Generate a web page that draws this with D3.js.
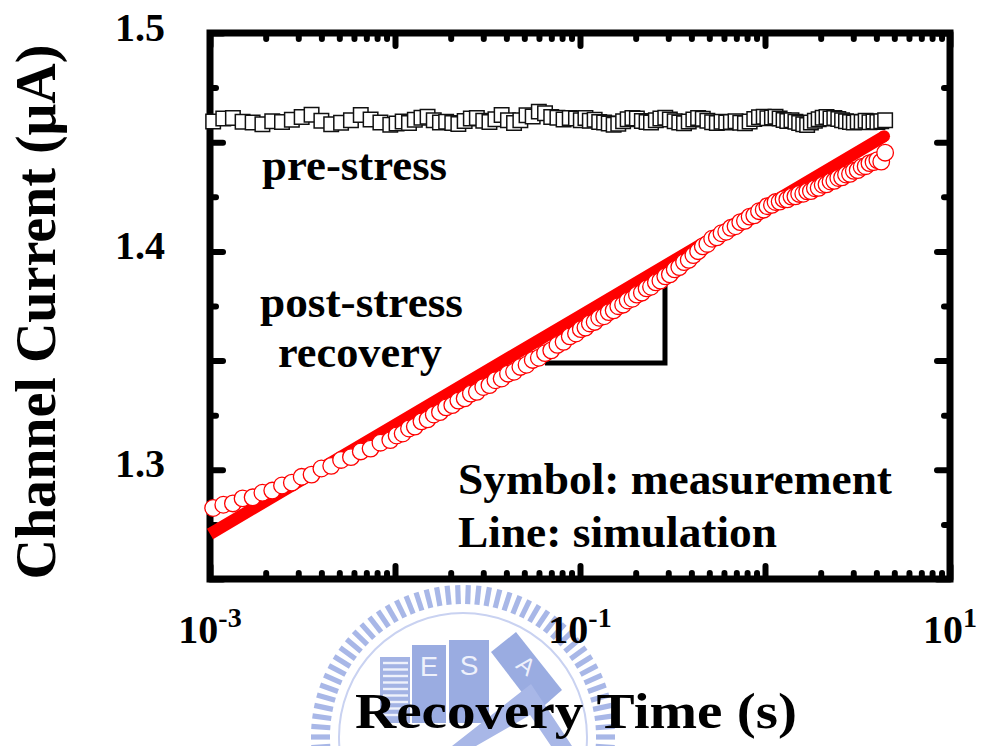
<!DOCTYPE html>
<html>
<head>
<meta charset="utf-8">
<script src="https://cdn.jsdelivr.net/npm/d3@7"></script>
<style>
  html, body { margin: 0; padding: 0; background: #fff; }
  svg { display: block; }
  text { font-family: "Liberation Serif", "Times New Roman", serif; font-weight: bold; fill: #000; }
</style>
</head>
<body>
<svg id="chart" width="983" height="746"></svg>
<script>
// Recovery time of each measured sample (s)
const recoveryTime = [
  0.00104,0.00118,0.00133,0.00150,0.00170,0.00192,0.00217,0.00245,0.00277,0.00313,
  0.00354,0.00400,0.00452,0.00511,0.00578,0.00653,0.00738,0.00834,0.00943,0.0102,
  0.0110,0.0119,0.0128,0.0139,0.0150,0.0162,0.0175,0.0189,0.0204,0.0220,
  0.0238,0.0257,0.0277,0.0300,0.0324,0.0349,0.0377,0.0408,0.0440,0.0476,
  0.0514,0.0555,0.0599,0.0647,0.0699,0.0755,0.0815,0.0880,0.0951,0.101,
  0.107,0.113,0.120,0.127,0.135,0.143,0.152,0.161,0.171,0.181,
  0.192,0.203,0.216,0.229,0.242,0.257,0.272,0.289,0.306,0.325,
  0.344,0.365,0.387,0.410,0.435,0.461,0.488,0.518,0.549,0.582,
  0.617,0.654,0.693,0.735,0.779,0.826,0.875,0.928,0.984,1.03,
  1.09,1.14,1.20,1.26,1.32,1.39,1.46,1.53,1.61,1.69,
  1.77,1.86,1.95,2.05,2.15,2.26,2.37,2.49,2.61,2.74,
  2.88,3.02,3.17,3.33,3.50,3.67,3.86,4.05,4.25,4.46
];

// Channel current before stress (µA)
const preStressCurrent = [
  1.4595,1.4608,1.4611,1.4594,1.4590,1.4582,1.4596,1.4592,1.4603,1.4615,
  1.4626,1.4598,1.4582,1.4589,1.4600,1.4625,1.4604,1.4590,1.4580,1.4586,
  1.4595,1.4588,1.4603,1.4612,1.4616,1.4600,1.4590,1.4594,1.4588,1.4583,
  1.4597,1.4609,1.4611,1.4598,1.4592,1.4605,1.4624,1.4600,1.4588,1.4601,
  1.4623,1.4618,1.4640,1.4633,1.4615,1.4612,1.4604,1.4611,1.4608,1.4600,
  1.4611,1.4598,1.4603,1.4592,1.4590,1.4586,1.4580,1.4584,1.4596,1.4605,
  1.4611,1.4608,1.4597,1.4592,1.4590,1.4601,1.4608,1.4612,1.4604,1.4596,
  1.4590,1.4587,1.4595,1.4604,1.4611,1.4607,1.4598,1.4591,1.4588,1.4594,
  1.4590,1.4592,1.4596,1.4589,1.4587,1.4595,1.4606,1.4614,1.4616,1.4610,
  1.4613,1.4617,1.4609,1.4602,1.4597,1.4601,1.4594,1.4588,1.4582,1.4579,
  1.4590,1.4598,1.4605,1.4612,1.4615,1.4609,1.4611,1.4606,1.4601,1.4596,
  1.4593,1.4590,1.4594,1.4592,1.4598,1.4591,1.4595,1.4593,1.4596,1.4600
];

// Channel current during post-stress recovery (µA)
const recoveryCurrent = [
  1.2825,1.2840,1.2846,1.2869,1.2874,1.2895,1.2905,1.2928,1.2941,1.2968,
  1.2978,1.3006,1.3018,1.3045,1.3058,1.3084,1.3097,1.3124,1.3136,1.3157,
  1.3166,1.3189,1.3198,1.3222,1.3231,1.3253,1.3264,1.3286,1.3296,1.3317,
  1.3327,1.3349,1.3357,1.3379,1.3388,1.3410,1.3418,1.3440,1.3449,1.3471,
  1.3481,1.3503,1.3513,1.3534,1.3547,1.3572,1.3586,1.3611,1.3624,1.3644,
  1.3651,1.3670,1.3677,1.3696,1.3703,1.3722,1.3730,1.3749,1.3756,1.3775,
  1.3783,1.3802,1.3811,1.3831,1.3838,1.3858,1.3866,1.3886,1.3895,1.3918,
  1.3928,1.3951,1.3961,1.3983,1.4001,1.4023,1.4034,1.4058,1.4064,1.4083,
  1.4090,1.4108,1.4115,1.4134,1.4140,1.4159,1.4165,1.4184,1.4191,1.4207,
  1.4213,1.4226,1.4228,1.4239,1.4238,1.4251,1.4252,1.4263,1.4264,1.4275,
  1.4276,1.4289,1.4291,1.4305,1.4307,1.4320,1.4323,1.4336,1.4339,1.4352,
  1.4355,1.4369,1.4372,1.4387,1.4390,1.4404,1.4409,1.4418,1.4411,1.4452
];

// Simulated recovery (µA)
const simTime = [0.001, 0.01, 0.1, 1, 4.4];
const simCurrent = [1.2706, 1.3206, 1.3705, 1.4205, 1.4527];

// Slope guide (corner of the right triangle)
const slopeTime = [0.0647, 0.288];
const slopeCurrent = [1.3489, 1.3860];

// Axis ticks and labels
const xMajorTicks = [0.001, 0.01, 0.1, 1, 10];
const xLabelValues = [0.001, 0.1, 10];
const xLabelExponents = ["-3", "-1", "1"];
const yMajorTicks = [1.25, 1.3, 1.35, 1.4, 1.45, 1.5];
const yMinorTicks = [1.275, 1.325, 1.375, 1.425, 1.475];
const yLabelValues = [1.3, 1.4, 1.5];
const yLabelText = ["1.3", "1.4", "1.5"];

const svg = d3.select("#chart");
const L = 210, R = 950, T = 33, B = 579;

const x = d3.scaleLog().domain([1e-3, 10]).range([L, R]);
const y = d3.scaleLinear().domain([1.25, 1.5]).range([B, T]);

// ---- institute logo in the lower part of the page ----
const logo = svg.append("g").attr("class", "logo");
const lc = [463, 737];
const teeth = logo.append("g").attr("transform", `translate(${lc[0]},${lc[1]})`);
for (let a = -98; a <= 98; a += 4) {
  teeth.append("rect")
    .attr("x", -2.6).attr("y", -152).attr("width", 5.2).attr("height", 19)
    .attr("fill", "#a8b7e7")
    .attr("transform", `rotate(${a})`);
}
teeth.append("circle").attr("r", 124).attr("fill", "none")
  .attr("stroke", "#c9d2f1").attr("stroke-width", 2);
logo.append("rect").attr("x", 380).attr("y", 657).attr("width", 30).attr("height", 66).attr("fill", "#a3b3e4");
for (let yy = 663; yy < 720; yy += 6.5) {
  logo.append("line").attr("x1", 383).attr("x2", 408).attr("y1", yy).attr("y2", yy)
    .attr("stroke", "#eef1fb").attr("stroke-width", 2.4);
}
logo.append("rect").attr("x", 412).attr("y", 645).attr("width", 34).attr("height", 78).attr("fill", "#9aace1");
logo.append("rect").attr("x", 449).attr("y", 640).attr("width", 40).attr("height", 83).attr("fill", "#9aace1");
logo.append("polygon").attr("points", "491,652 516,632 562,690 537,712").attr("fill", "#9aace1");
logo.append("polygon").attr("points", "452,746 531,684 572,746 551,746 530,715 476,746").attr("fill", "#a8b7e7");
const logoFont = g => g.style("font-family", "Liberation Sans, sans-serif").style("font-weight", "normal").style("fill", "#eef1fb");
logo.append("text").attr("x", 429).attr("y", 676).attr("text-anchor", "middle")
  .style("font-size", "27px").call(logoFont).text("E");
logo.append("text").attr("x", 469).attr("y", 675).attr("text-anchor", "middle")
  .style("font-size", "28px").call(logoFont).text("S");
logo.append("text").attr("transform", "translate(521,672) rotate(38)").attr("text-anchor", "middle")
  .style("font-size", "24px").call(logoFont).text("A");

// ---- frame and inward ticks ----
function styleTicks(g) {
  g.select(".domain").remove();
  g.selectAll(".tick line").attr("stroke", "#000").attr("stroke-width", 6).attr("stroke-linecap", "round");
  g.selectAll(".tick text").remove();
}
const xMinor = x.ticks().filter(v => !xMajorTicks.some(m => Math.abs(m - v) / m < 1e-6));

svg.append("g").attr("transform", `translate(0,${B})`)
  .call(d3.axisBottom(x).tickValues(xMajorTicks).tickSize(-13)).call(styleTicks);
svg.append("g").attr("transform", `translate(0,${B})`)
  .call(d3.axisBottom(x).tickValues(xMinor).tickSize(-6)).call(styleTicks);
svg.append("g").attr("transform", `translate(0,${T})`)
  .call(d3.axisTop(x).tickValues(xMajorTicks).tickSize(-13)).call(styleTicks);
svg.append("g").attr("transform", `translate(0,${T})`)
  .call(d3.axisTop(x).tickValues(xMinor).tickSize(-6)).call(styleTicks);
svg.append("g").attr("transform", `translate(${L},0)`)
  .call(d3.axisLeft(y).tickValues(yMajorTicks).tickSize(-13)).call(styleTicks);
svg.append("g").attr("transform", `translate(${L},0)`)
  .call(d3.axisLeft(y).tickValues(yMinorTicks).tickSize(-6)).call(styleTicks);
svg.append("g").attr("transform", `translate(${R},0)`)
  .call(d3.axisRight(y).tickValues(yMajorTicks).tickSize(-13)).call(styleTicks);
svg.append("g").attr("transform", `translate(${R},0)`)
  .call(d3.axisRight(y).tickValues(yMinorTicks).tickSize(-6)).call(styleTicks);

svg.append("rect").attr("x", L).attr("y", T).attr("width", R - L).attr("height", B - T)
  .attr("fill", "none").attr("stroke", "#000").attr("stroke-width", 7);

// ---- tick labels ----
svg.append("g").selectAll("text").data(yLabelValues).join("text")
  .attr("x", 165).attr("y", d => y(d) + 7.5)
  .attr("text-anchor", "end").style("font-size", "40px")
  .text((d, i) => yLabelText[i]);

const xl = svg.append("g").selectAll("text").data(xLabelValues).join("text")
  .attr("x", d => x(d)).attr("y", 643).attr("text-anchor", "middle");
xl.append("tspan").style("font-size", "40px").text("10");
xl.append("tspan").style("font-size", "28px").attr("dy", -16).text((d, i) => xLabelExponents[i]);

// ---- axis titles ----
svg.append("text").attr("x", 576).attr("y", 728).attr("text-anchor", "middle")
  .style("font-size", "50px").attr("textLength", 442).attr("lengthAdjust", "spacingAndGlyphs")
  .text("Recovery Time (s)");
svg.append("text").attr("transform", "translate(55,312) rotate(-90)").attr("text-anchor", "middle")
  .style("font-size", "56px").attr("textLength", 535).attr("lengthAdjust", "spacingAndGlyphs")
  .text("Channel Current (μA)");

// ---- annotations ----
const notes = [
  { t: "pre-stress", x: 262, y: 180, w: 185 },
  { t: "post-stress", x: 260, y: 317, w: 203 },
  { t: "recovery", x: 278, y: 367, w: 164 },
  { t: "Symbol: measurement", x: 458, y: 494, w: 434 },
  { t: "Line: simulation", x: 458, y: 547, w: 319 }
];
svg.append("g").selectAll("text").data(notes).join("text")
  .attr("x", d => d.x).attr("y", d => d.y).style("font-size", "44px")
  .attr("textLength", d => d.w).attr("lengthAdjust", "spacingAndGlyphs")
  .text(d => d.t);

// slope triangle
svg.append("path")
  .attr("d", d3.line()([
    [x(slopeTime[0]), y(slopeCurrent[0])],
    [x(slopeTime[1]), y(slopeCurrent[0])],
    [x(slopeTime[1]), y(slopeCurrent[1])]
  ]))
  .attr("fill", "none").attr("stroke", "#000").attr("stroke-width", 5);

// ---- simulation line ----
const simPts = simTime.map((t, i) => [x(t), y(simCurrent[i])]);
svg.append("path").attr("d", d3.line()(simPts))
  .attr("fill", "none").attr("stroke", "#ff0000").attr("stroke-width", 12);
svg.append("circle").attr("cx", simPts[simPts.length - 1][0]).attr("cy", simPts[simPts.length - 1][1])
  .attr("r", 6).attr("fill", "#ff0000");

// ---- measured recovery (open circles) ----
svg.append("g").selectAll("circle").data(recoveryTime).join("circle")
  .attr("cx", d => x(d)).attr("cy", (d, i) => y(recoveryCurrent[i]))
  .attr("r", 8.3).attr("fill", "#fff").attr("stroke", "#ff0000").attr("stroke-width", 1.3);

// ---- pre-stress measurement (open squares) ----
const sq = d3.symbol(d3.symbolSquare, 210);
svg.append("g").selectAll("path").data(recoveryTime).join("path")
  .attr("d", sq)
  .attr("transform", (d, i) => `translate(${x(d)},${y(preStressCurrent[i])})`)
  .attr("fill", "#fff").attr("stroke", "#111").attr("stroke-width", 1.5);
</script>
</body>
</html>
